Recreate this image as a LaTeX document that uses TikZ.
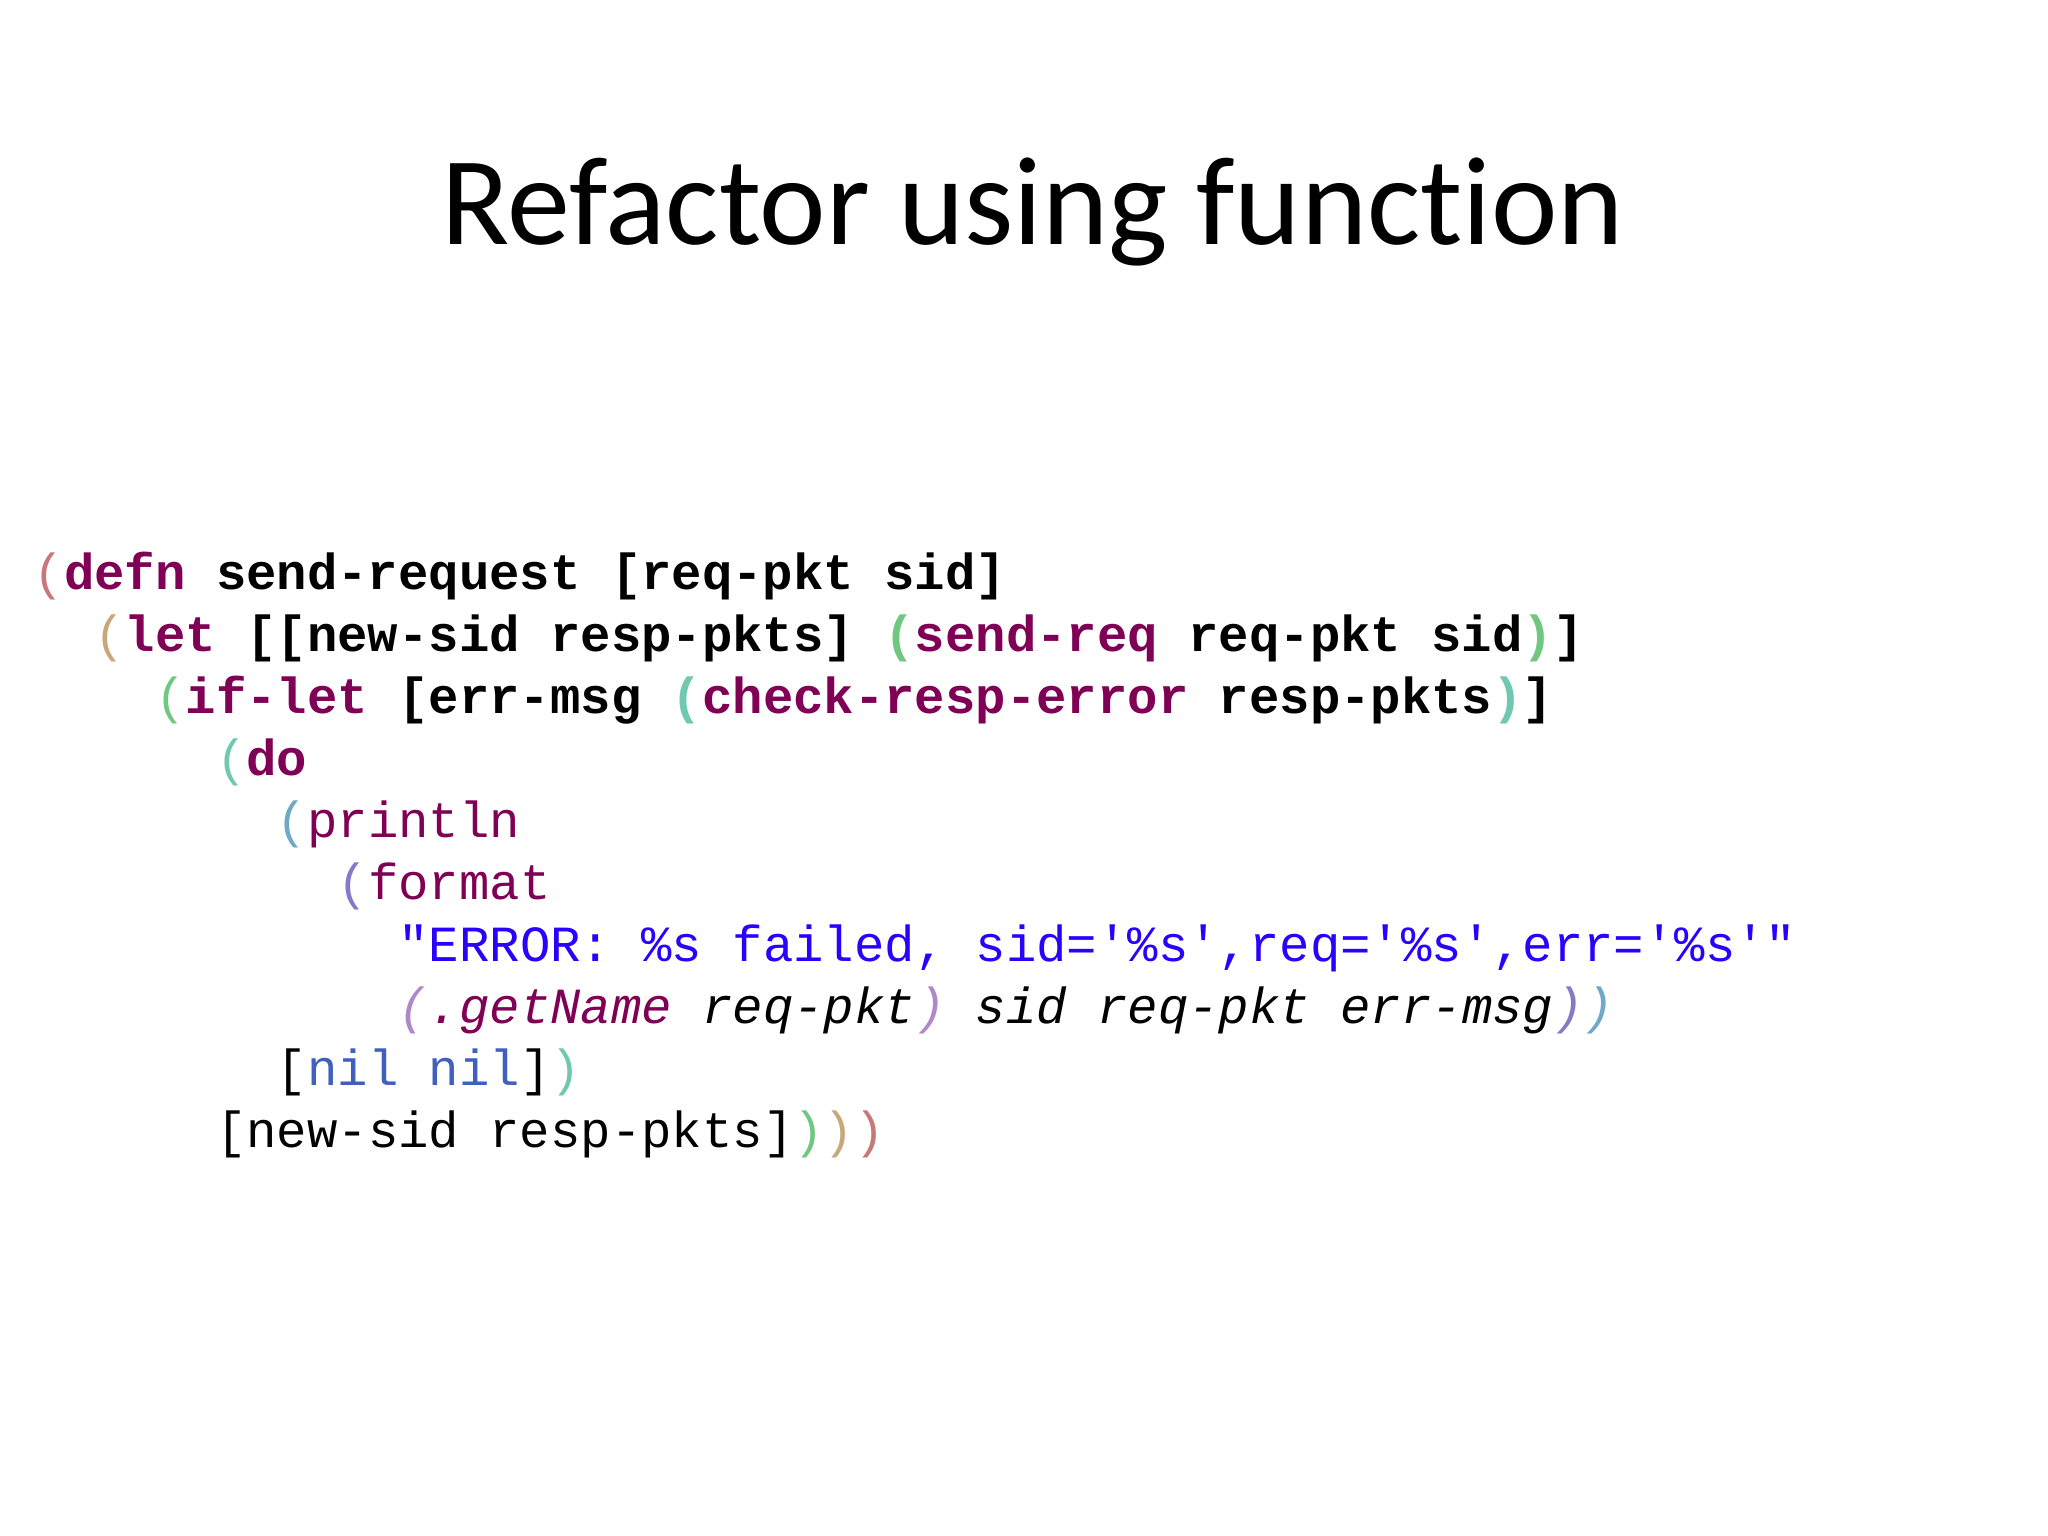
\documentclass[tikz,border=0pt]{standalone}
\usepackage{fontspec}
\setmainfont[Ligatures=NoCommon]{Carlito}
\setmonofont{Liberation Mono}
\definecolor{kw}{HTML}{7F0055}
\definecolor{pa}{HTML}{C87878}
\definecolor{pb}{HTML}{C8A878}
\definecolor{pc}{HTML}{70C880}
\definecolor{pd}{HTML}{70C8B0}
\definecolor{pe}{HTML}{70A8C8}
\definecolor{pf}{HTML}{8878C8}
\definecolor{pg}{HTML}{B088C8}
\definecolor{str}{HTML}{2A00FF}
\definecolor{nl}{HTML}{4060C0}
\newcommand{\Kw}[1]{\textcolor{kw}{\textbf{#1}}}
\newcommand{\Pc}[2]{\textcolor{#1}{#2}}
\begin{document}
\begin{tikzpicture}[x=0.01cm,y=-0.01cm,
  codeline/.style={anchor=base west,inner sep=0pt,font=\ttfamily\fontsize{14.4pt}{17pt}\selectfont}]
\useasboundingbox (0,0) rectangle (2048,1536);
\fill[white] (0,0) rectangle (2048,1536);
\node[anchor=base,inner sep=0pt,font=\fontsize{35.8pt}{42pt}\selectfont] (title) at (1033,244) {Refactor using function};
\def\cw{30.4}
\def\lh{62}
\def\yo{589}
\node[codeline] (l1) at (33,\yo) {\Pc{pa}{(}\Kw{defn} \textbf{send-request [req-pkt sid]}};
\node[codeline] (l2) at ({33+2*\cw},{\yo+\lh}) {\Pc{pb}{(}\Kw{let} \textbf{[[new-sid resp-pkts]} \Pc{pc}{\textbf{(}}\Kw{send-req} \textbf{req-pkt sid}\Pc{pc}{\textbf{)}}\textbf{]}};
\node[codeline] (l3) at ({33+4*\cw},{\yo+2*\lh}) {\Pc{pc}{(}\Kw{if-let} \textbf{[err-msg} \Pc{pd}{\textbf{(}}\Kw{check-resp-error} \textbf{resp-pkts}\Pc{pd}{\textbf{)}}\textbf{]}};
\node[codeline] (l4) at ({33+6*\cw},{\yo+3*\lh}) {\Pc{pd}{(}\Kw{do}};
\node[codeline] (l5) at ({33+8*\cw},{\yo+4*\lh}) {\Pc{pe}{(}\textcolor{kw}{println}};
\node[codeline] (l6) at ({33+10*\cw},{\yo+5*\lh}) {\Pc{pf}{(}\textcolor{kw}{format}};
\node[codeline] (l7) at ({33+12*\cw},{\yo+6*\lh}) {\textcolor{str}{"ERROR: \%s failed, sid='\%s',req='\%s',err='\%s'"}};
\node[codeline] (l8) at ({33+12*\cw},{\yo+7*\lh}) {\itshape\Pc{pg}{(}\textcolor{kw}{.getName} req-pkt\Pc{pg}{)} sid req-pkt err-msg\Pc{pf}{)}\Pc{pe}{)}};
\node[codeline] (l9) at ({33+8*\cw},{\yo+8*\lh}) {[\textcolor{nl}{nil nil}]\Pc{pd}{)}};
\node[codeline] (l10) at ({33+6*\cw},{\yo+9*\lh}) {[new-sid resp-pkts]\Pc{pc}{)}\Pc{pb}{)}\Pc{pa}{)}};
\end{tikzpicture}
\end{document}
